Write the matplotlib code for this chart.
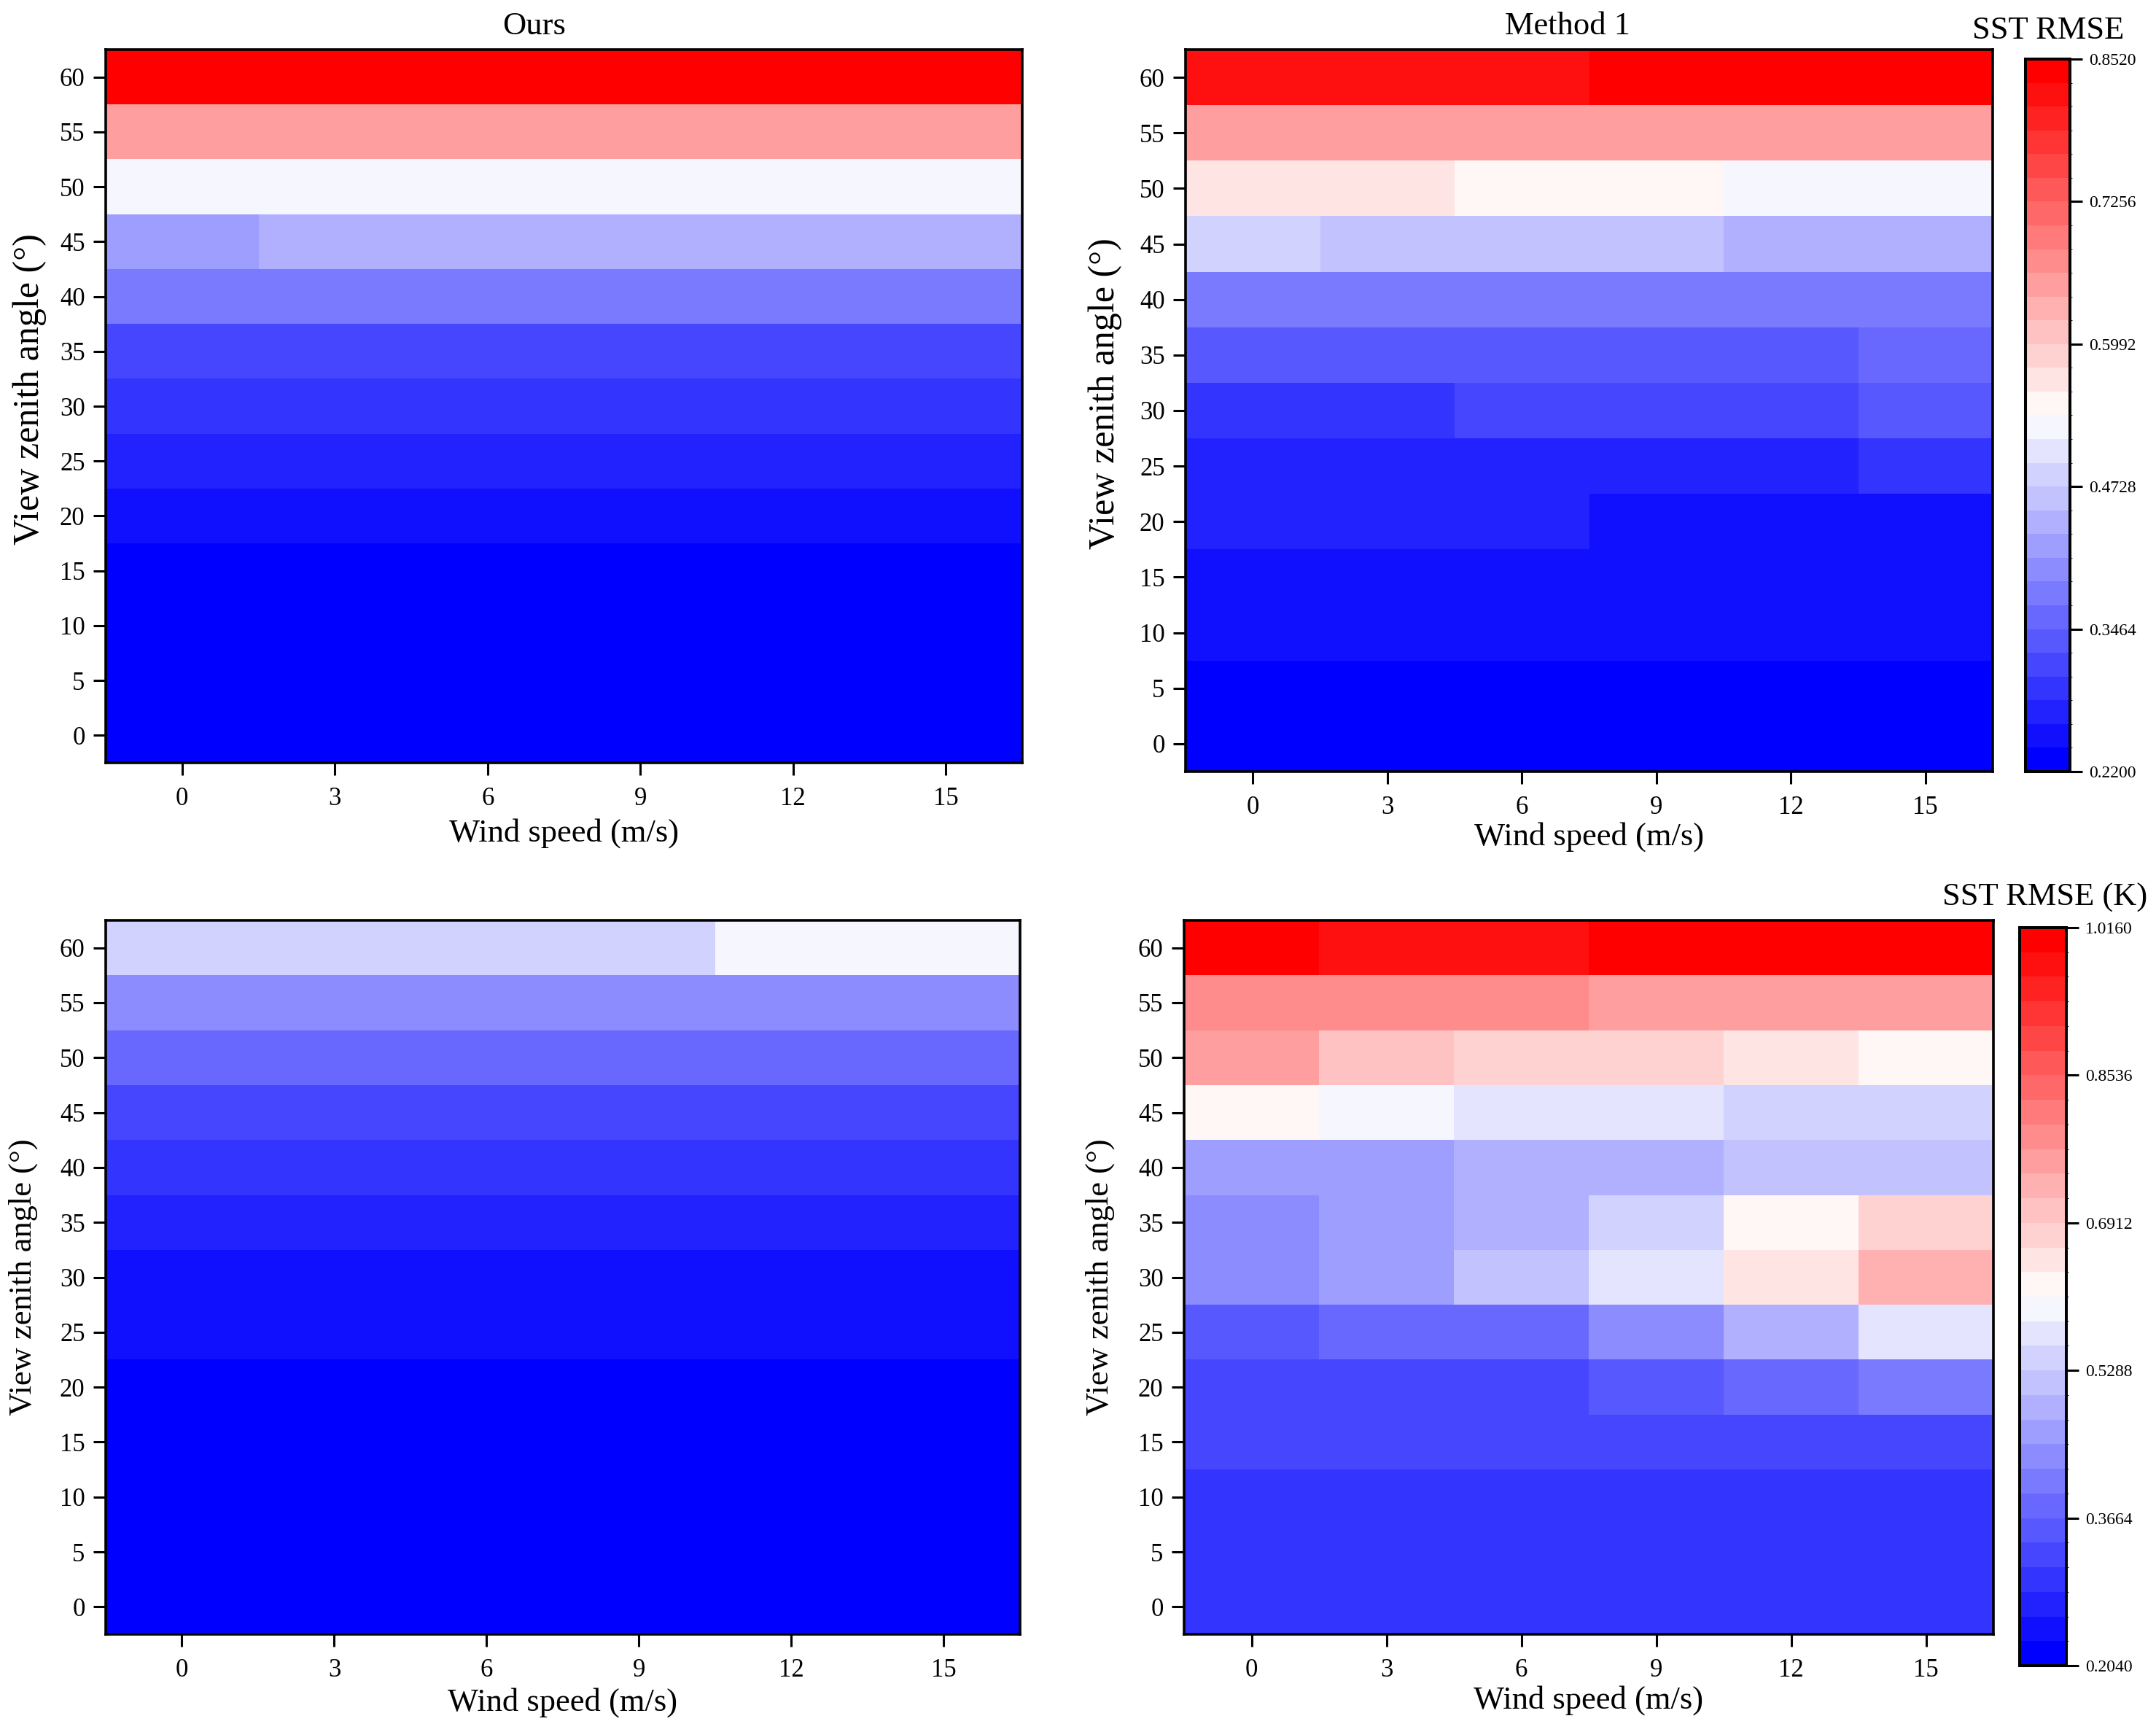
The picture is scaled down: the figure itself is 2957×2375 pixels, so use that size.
import numpy as np
import matplotlib
matplotlib.use("Agg")
import matplotlib.pyplot as plt
from matplotlib.colors import ListedColormap, BoundaryNorm
from matplotlib.ticker import FormatStrFormatter

plt.rcParams['font.family'] = ['Liberation Serif', 'DejaVu Serif']

# ---------------- data ----------------
wind_speed = [0, 3, 6, 9, 12, 15]                                   # m/s (columns)
zenith_angle = [60, 55, 50, 45, 40, 35, 30, 25, 20, 15, 10, 5, 0]   # degrees (rows, top to bottom)

# SST RMSE, top row (shared colour scale 0.2200 - 0.8520)
ours_top = [
    [0.845, 0.845, 0.845, 0.845, 0.845, 0.845],
    [0.652, 0.652, 0.652, 0.652, 0.652, 0.652],
    [0.525, 0.525, 0.525, 0.525, 0.525, 0.525],
    [0.420, 0.441, 0.441, 0.441, 0.441, 0.441],
    [0.378, 0.378, 0.378, 0.378, 0.378, 0.378],
    [0.315, 0.315, 0.315, 0.315, 0.315, 0.315],
    [0.294, 0.294, 0.294, 0.294, 0.294, 0.294],
    [0.273, 0.273, 0.273, 0.273, 0.273, 0.273],
    [0.252, 0.252, 0.252, 0.252, 0.252, 0.252],
    [0.231, 0.231, 0.231, 0.231, 0.231, 0.231],
    [0.228, 0.228, 0.228, 0.228, 0.228, 0.228],
    [0.225, 0.225, 0.225, 0.225, 0.225, 0.225],
    [0.222, 0.222, 0.222, 0.222, 0.222, 0.222],
]
method1_top = [
    [0.820, 0.820, 0.820, 0.841, 0.841, 0.841],
    [0.652, 0.652, 0.652, 0.652, 0.652, 0.652],
    [0.568, 0.568, 0.547, 0.547, 0.525, 0.525],
    [0.483, 0.462, 0.462, 0.462, 0.441, 0.441],
    [0.378, 0.378, 0.378, 0.378, 0.378, 0.378],
    [0.336, 0.336, 0.336, 0.336, 0.336, 0.357],
    [0.294, 0.294, 0.315, 0.315, 0.315, 0.336],
    [0.273, 0.273, 0.273, 0.273, 0.273, 0.294],
    [0.273, 0.273, 0.273, 0.252, 0.252, 0.252],
    [0.252, 0.252, 0.252, 0.252, 0.252, 0.252],
    [0.250, 0.250, 0.250, 0.250, 0.250, 0.250],
    [0.231, 0.231, 0.231, 0.231, 0.231, 0.231],
    [0.228, 0.228, 0.228, 0.228, 0.228, 0.228],
]

# SST RMSE (K), bottom row (shared colour scale 0.2040 - 1.0160)
ours_bottom = [
    [0.542, 0.542, 0.542, 0.542, 0.597, 0.597],
    [0.434, 0.434, 0.434, 0.434, 0.434, 0.434],
    [0.380, 0.380, 0.380, 0.380, 0.380, 0.380],
    [0.326, 0.326, 0.326, 0.326, 0.326, 0.326],
    [0.299, 0.299, 0.299, 0.299, 0.299, 0.299],
    [0.272, 0.272, 0.272, 0.272, 0.272, 0.272],
    [0.245, 0.245, 0.245, 0.245, 0.245, 0.245],
    [0.240, 0.240, 0.240, 0.240, 0.240, 0.240],
    [0.218, 0.218, 0.218, 0.218, 0.218, 0.218],
    [0.215, 0.215, 0.215, 0.215, 0.215, 0.215],
    [0.212, 0.212, 0.212, 0.212, 0.212, 0.212],
    [0.209, 0.209, 0.209, 0.209, 0.209, 0.209],
    [0.206, 0.206, 0.206, 0.206, 0.206, 0.206],
]
method1_bottom = [
    [1.002, 0.975, 0.975, 1.002, 1.002, 1.002],
    [0.786, 0.786, 0.786, 0.759, 0.759, 0.759],
    [0.759, 0.705, 0.678, 0.678, 0.651, 0.624],
    [0.624, 0.597, 0.569, 0.569, 0.542, 0.542],
    [0.461, 0.461, 0.488, 0.488, 0.515, 0.515],
    [0.434, 0.461, 0.488, 0.542, 0.624, 0.678],
    [0.434, 0.461, 0.515, 0.569, 0.651, 0.732],
    [0.353, 0.380, 0.380, 0.434, 0.488, 0.569],
    [0.326, 0.326, 0.326, 0.353, 0.380, 0.407],
    [0.326, 0.326, 0.326, 0.326, 0.326, 0.326],
    [0.299, 0.299, 0.299, 0.299, 0.299, 0.299],
    [0.299, 0.299, 0.299, 0.299, 0.299, 0.299],
    [0.299, 0.299, 0.299, 0.299, 0.299, 0.299],
]

scale_top = (0.2200, 0.8520)
scale_bottom = (0.2040, 1.0160)
n_levels = 30

x_ticks = [0, 3, 6, 9, 12, 15]
y_ticks = [0, 5, 10, 15, 20, 25, 30, 35, 40, 45, 50, 55, 60]

titles = ["Ours", "Method 1"]
xlabel = "Wind speed (m/s)"
ylabel = "View zenith angle (°)"
cbar_labels = ["SST RMSE", "SST RMSE (K)"]

# ---------------- figure ----------------
W, H = 2957, 2375
DPI = 100
fig = plt.figure(figsize=(W / DPI, H / DPI), dpi=DPI)


def frac(l, r, t, b):
    return [l / W, 1 - b / H, (r - l) / W, (b - t) / H]


cmap = ListedColormap(plt.get_cmap('bwr')(np.linspace(0, 1, n_levels)))

panels = [
    # data, scale, rect, ylabel size, xlabel y, ylabel x, ylabel y
    (ours_top, scale_top, frac(145, 1402, 68, 1046), 36, -0.099, -0.083, 0.524),
    (method1_top, scale_top, frac(1626, 2733, 68, 1058), 36, -0.090, -0.100, 0.524),
    (ours_bottom, scale_bottom, frac(145, 1399, 1262, 2241), 32, -0.096, -0.090, 0.50),
    (method1_bottom, scale_bottom, frac(1624, 2734, 1262, 2241), 32, -0.092, -0.104, 0.50),
]

zen_asc = np.array(zenith_angle)[::-1]
mappables = []
for data, (vmin, vmax), rect, ylsize, xly, ylx, yly in panels:
    ax = fig.add_axes(rect)
    Z = np.array(data)[::-1]
    norm = BoundaryNorm(np.linspace(vmin, vmax, n_levels + 1), n_levels)
    m = ax.pcolormesh(wind_speed, zen_asc, Z, shading='nearest', cmap=cmap, norm=norm)
    mappables.append(m)
    ax.set_xlim(wind_speed[0] - 1.5, wind_speed[-1] + 1.5)
    ax.set_ylim(zenith_angle[-1] - 2.5, zenith_angle[0] + 2.5)
    ax.set_xticks(x_ticks)
    ax.set_yticks(y_ticks)
    ax.tick_params(direction='out', length=12.5, width=2.2, labelsize=25)
    ax.tick_params(axis='x', pad=11)
    ax.tick_params(axis='y', pad=8)
    for s in ax.spines.values():
        s.set_linewidth(2.6)
    ax.set_xlabel(xlabel, fontsize=32, va='center')
    ax.xaxis.set_label_coords(0.5, xly)
    ax.set_ylabel(ylabel, fontsize=ylsize, va='center')
    ax.yaxis.set_label_coords(ylx, yly)

# titles
fig.text(733 / W, 1 - 36 / H, titles[0], fontsize=32, ha='center', va='center')
fig.text(2150 / W, 1 - 36 / H, titles[1], fontsize=32, ha='center', va='center')

# colorbars
cb_rects = [frac(2778, 2839, 81, 1058), frac(2770, 2834, 1272, 2284)]
cb_scales = [scale_top, scale_bottom]
cb_mappables = [mappables[1], mappables[3]]
cb_label_pos = [(2809, 42), (2805, 1231)]
for rect, (vmin, vmax), m, lab, (lx, ly) in zip(cb_rects, cb_scales, cb_mappables,
                                               cbar_labels, cb_label_pos):
    cax = fig.add_axes(rect)
    cb = fig.colorbar(m, cax=cax, ticks=np.linspace(vmin, vmax, 6))
    cb.ax.yaxis.set_major_formatter(FormatStrFormatter('%.4f'))
    cb.outline.set_linewidth(2.9)
    cb.ax.tick_params(direction='out', length=12.5, width=2.2, labelsize=17, pad=6)
    fig.text(lx / W, 1 - ly / H, lab, fontsize=32, ha='center', va='center')

fig.savefig("out.png", dpi=DPI)
